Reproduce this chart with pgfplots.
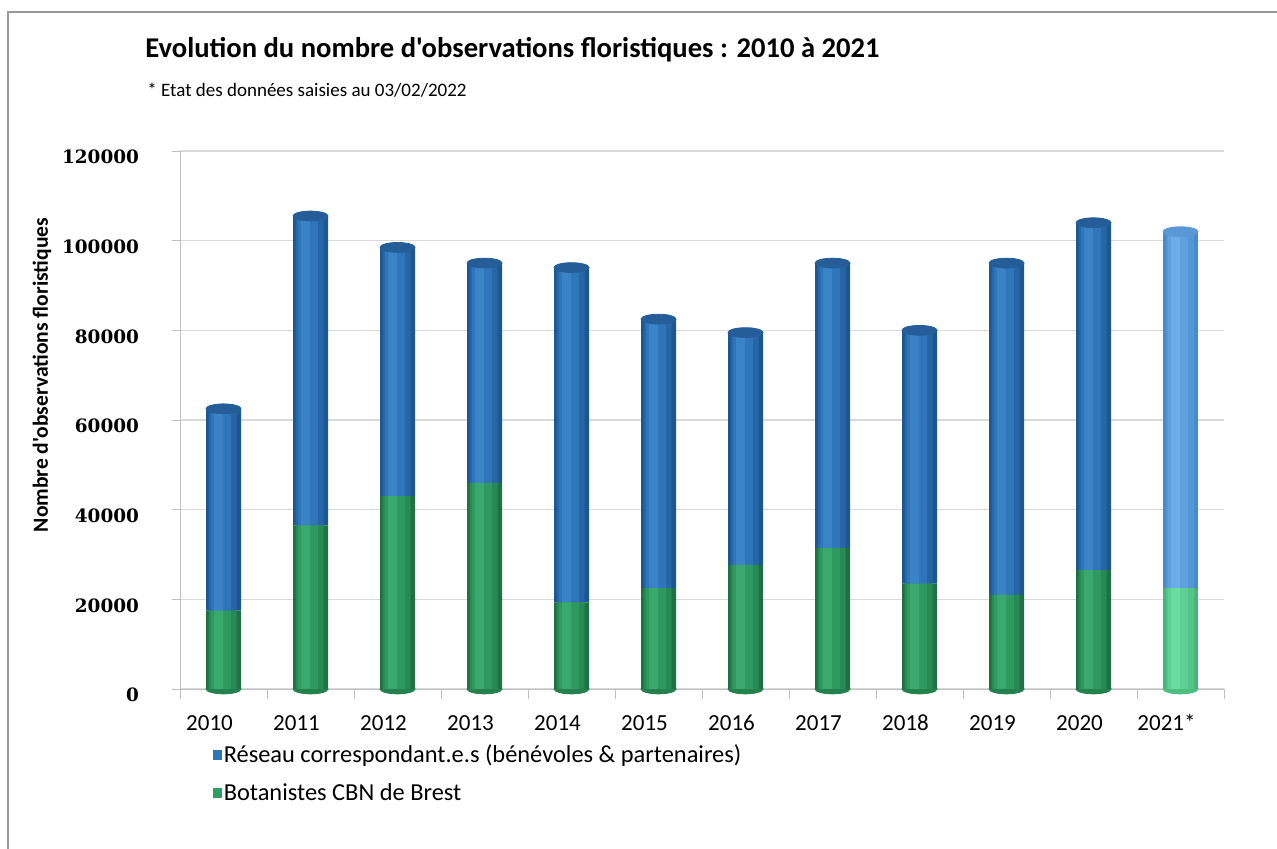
\documentclass[border=0pt]{standalone}
\usepackage{fontspec}
\setmainfont{Carlito}[Ligatures=TeXOff]
\newfontfamily\serifnum{DejaVu Serif}
\usepackage{pgfplots}
\usepackage{pgfplotstable}
\pgfplotsset{compat=1.18}
% blue layers (edge -> highlight)
\definecolor{b1}{HTML}{1D5790}
\definecolor{b2}{HTML}{2766A6}
\definecolor{b3}{HTML}{2F75BA}
\definecolor{b4}{HTML}{3B83C7}
\definecolor{bC}{HTML}{245D97}
% green layers
\definecolor{g1}{HTML}{1F7043}
\definecolor{g2}{HTML}{278A55}
\definecolor{g3}{HTML}{2E9A60}
\definecolor{g4}{HTML}{39A96D}
\definecolor{gC}{HTML}{24804D}
% light blue layers (2021)
\definecolor{lb1}{HTML}{4A8ACB}
\definecolor{lb2}{HTML}{5596D6}
\definecolor{lb3}{HTML}{5FA0DE}
\definecolor{lb4}{HTML}{6BADE8}
\definecolor{lbC}{HTML}{5A98D5}
% light green layers (2021)
\definecolor{lg1}{HTML}{45B677}
\definecolor{lg2}{HTML}{52C587}
\definecolor{lg3}{HTML}{5CD192}
\definecolor{lg4}{HTML}{69DCA0}
\definecolor{lgC}{HTML}{4CBF80}
\definecolor{legB}{HTML}{2E75B6}
\definecolor{legG}{HTML}{2E9E62}
\definecolor{gridc}{HTML}{D9D9D9}
\definecolor{axc}{HTML}{BFBFBF}

% green = Botanistes CBN de Brest, blue = Reseau correspondant.e.s ; 2021 in l* columns
\pgfplotstableread{
x green blue lgreen lblue
0 17500 45000 0 0
1 36500 69000 0 0
2 43000 55500 0 0
3 46000 49000 0 0
4 19300 74700 0 0
5 22500 60000 0 0
6 27700 51800 0 0
7 31500 63500 0 0
8 23500 56500 0 0
9 21000 74000 0 0
10 26500 77500 0 0
11 0 0 22500 79500
}\data

\pgfplotsset{base/.style={at={(90pt,80pt)},anchor=south west,scale only axis,
  width=522pt,height=269pt,xmin=-0.5,xmax=11.5,ymin=0,ymax=120000}}

\newcommand\barlayer[3]{%
\begin{axis}[base,hide axis,ybar stacked,bar width=#1,bar shift=#2]
\addplot[draw=none,fill=g#3] table[x=x,y=green] {\data};
\addplot[draw=none,fill=b#3] table[x=x,y=blue] {\data};
\addplot[draw=none,fill=lg#3] table[x=x,y=lgreen] {\data};
\addplot[draw=none,fill=lb#3] table[x=x,y=lblue] {\data};
\end{axis}}

\begin{document}
\begin{tikzpicture}
\useasboundingbox (0,0) rectangle (638.5pt,424.5pt);
\draw[color=black!40,line width=0.9pt] (4pt,0) -- (4pt,418.5pt) -- (638.5pt,418.5pt);

\node[anchor=west,inner sep=0pt,font=\bfseries\fontsize{14.3}{16}\selectfont] at (72.5pt,399.5pt) {Evolution du nombre d'observations floristiques : 2010 à 2021};
\node[anchor=west,inner sep=0pt,font=\fontsize{9.5}{11}\selectfont] at (73.5pt,379.5pt) {* Etat des données saisies au 03/02/2022};
\node[rotate=90,inner sep=0pt,font=\bfseries\fontsize{10.8}{12}\selectfont] at (21pt,237pt) {Nombre d'observations floristiques};

% axis Z: grid, ticks, bottom ellipses
\begin{axis}[base,
  axis x line*=bottom, axis y line*=left,
  axis line style={draw=axc},
  ymajorgrids, grid style={draw=gridc,line width=0.8pt},
  ytick={0,20000,...,120000},
  scaled y ticks=false,
  /pgf/number format/fixed,
  /pgf/number format/1000 sep={},
  /pgf/number format/assume math mode=true,
  yticklabel style={font=\serifnum\bfseries\fontsize{9.2}{10}\selectfont,xshift=-13pt,yshift=-3pt},
  xtick={0,...,11},
  xticklabels={2010,2011,2012,2013,2014,2015,2016,2017,2018,2019,2020,2021*},
  xticklabel style={font=\fontsize{11.5}{13}\selectfont,xshift=-7pt,yshift=-5pt,
    text height=8pt,text depth=0pt},
  minor xtick={-0.5,0.5,...,11.5},
  tick align=outside,
  major tick length=4pt, minor tick length=5pt,
  xtick style={draw=none},
  minor x tick style={draw=axc},
  ytick style={draw=axc},
  clip=false]
\addplot[only marks,mark=*,mark size=8.75pt,mark options={yscale=0.28,fill=gC,draw=gC},
  restrict x to domain=0:10]
  table[x=x,y expr=0] {\data};
\addplot[only marks,mark=*,mark size=8.75pt,mark options={yscale=0.28,fill=lgC,draw=lgC},
  restrict x to domain=11:11]
  table[x=x,y expr=0] {\data};
\end{axis}

\barlayer{17.5pt}{0pt}{1}
\barlayer{14pt}{-0.4pt}{2}
\barlayer{10pt}{-1.3pt}{3}
\barlayer{4.5pt}{-2.4pt}{4}

% axis C: caps and legend
\begin{axis}[base,hide axis,clip=false,
  legend style={at={(0.031,-0.095)},anchor=north west,draw=none,fill=none,
    font=\fontsize{12.2}{14}\selectfont,row sep=5pt,inner sep=0pt},
  legend cell align=left,
  legend image code/.code={\fill[#1] (0pt,-2.5pt) rectangle (4.5pt,2.5pt);}]
\addlegendimage{fill=legB,draw=none}
\addlegendentry{\hspace{-1pt}Réseau correspondant.e.s (bénévoles \& partenaires)}
\addlegendimage{fill=legG,draw=none}
\addlegendentry{\hspace{-1pt}Botanistes CBN de Brest}
\addplot[only marks,mark=*,mark size=8.75pt,mark options={yscale=0.28,fill=bC,draw=bC},
  restrict x to domain=0:10]
  table[x=x,y expr=\thisrow{green}+\thisrow{blue}] {\data};
\addplot[only marks,mark=*,mark size=8.75pt,mark options={yscale=0.28,fill=lbC,draw=lbC},
  restrict x to domain=11:11]
  table[x=x,y expr=\thisrow{lgreen}+\thisrow{lblue}] {\data};
\end{axis}
\end{tikzpicture}
\end{document}
